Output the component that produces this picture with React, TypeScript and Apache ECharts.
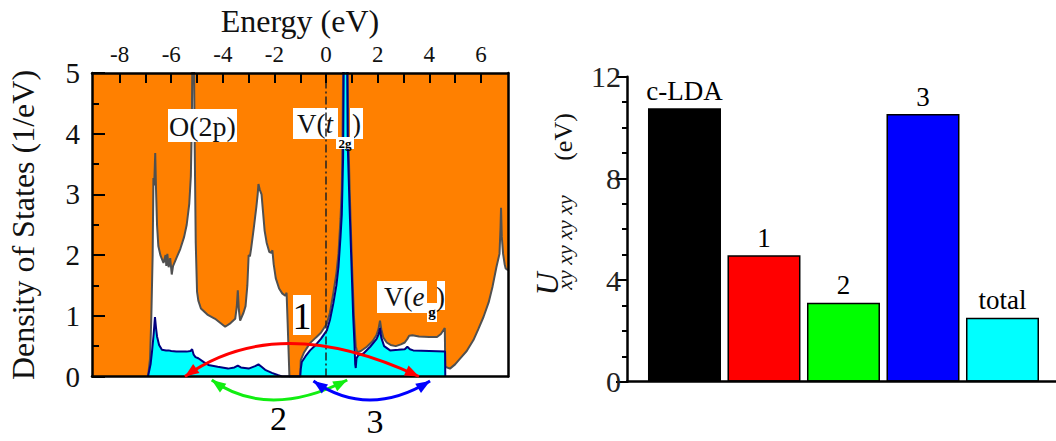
import React, { useEffect, useRef } from 'react';
import * as echarts from 'echarts';

const SERIF = 'Liberation Serif';

// ---------- Left panel: density of states ----------
const energyMin = -9.07;
const energyMax = 7.05;
const energyTickValues = [-8, -7, -6, -5, -4, -3, -2, -1, 0, 1, 2, 3, 4, 5, 6];
const energyLabelValues = [-8, -6, -4, -2, 0, 2, 4, 6];
const dosMin = 0;
const dosMax = 5;

// total DOS [energy eV, DOS 1/eV]
const totalDos: [number, number][] = [
  [-6.9, 0], [-6.82, 0.3], [-6.77, 1.0], [-6.72, 2.0], [-6.69, 3.27], [-6.66, 3.15], [-6.62, 3.68],
  [-6.59, 3.1], [-6.55, 2.5], [-6.5, 2.15], [-6.42, 2.0], [-6.3, 1.87], [-6.22, 2.0], [-6.19, 1.82],
  [-6.15, 2.02], [-6.1, 1.8], [-6.04, 1.95], [-5.98, 1.68], [-5.93, 1.82], [-5.8, 1.95], [-5.65, 2.1],
  [-5.5, 2.3], [-5.4, 2.5], [-5.3, 2.85], [-5.24, 3.3], [-5.2, 4.2], [-5.15, 7.0], [-5.1, 4.2],
  [-5.05, 2.2], [-5.0, 1.4], [-4.95, 1.25], [-4.85, 1.12], [-4.6, 1.02], [-4.3, 0.95], [-3.91, 0.82],
  [-3.7, 0.88], [-3.52, 0.95], [-3.46, 1.15], [-3.42, 1.42], [-3.38, 1.1], [-3.33, 0.92], [-3.2, 1.05],
  [-3.12, 1.16], [-3.05, 1.5], [-3.0, 2.0], [-2.95, 1.98], [-2.9, 2.12], [-2.8, 2.45], [-2.7, 2.8],
  [-2.65, 3.0], [-2.62, 3.17], [-2.57, 3.08], [-2.5, 3.0], [-2.45, 2.75], [-2.38, 2.4], [-2.3, 2.2],
  [-2.2, 2.05], [-2.12, 2.04], [-2.08, 2.08], [-2.03, 1.85], [-1.95, 1.62], [-1.82, 1.45], [-1.7, 1.37],
  [-1.58, 1.33], [-1.53, 1.38], [-1.49, 0.9], [-1.42, 0], [-1.0, 0], [-0.98, 0.27], [-0.85, 0.4],
  [-0.62, 0.55], [-0.4, 0.64], [-0.2, 0.72], [0.03, 0.87], [0.15, 1.05], [0.28, 1.37], [0.4, 1.7],
  [0.48, 2.02], [0.56, 2.6], [0.61, 3.1], [0.64, 4.0], [0.75, 10.0], [0.86, 4.0],
  [0.92, 3.0], [1.0, 1.9], [1.08, 1.0], [1.15, 0.5], [1.21, 0.4], [1.35, 0.42], [1.58, 0.49],
  [1.8, 0.58], [1.95, 0.68], [2.03, 0.78], [2.09, 0.92], [2.14, 0.78], [2.22, 0.64], [2.35, 0.56],
  [2.5, 0.52], [2.7, 0.5], [2.9, 0.53], [3.05, 0.56], [3.15, 0.62], [3.22, 0.67], [3.35, 0.68],
  [3.6, 0.66], [4.0, 0.65], [4.3, 0.65], [4.45, 0.7], [4.6, 0.8], [4.62, 0.16], [4.8, 0.13],
  [5.0, 0.2], [5.2, 0.3], [5.45, 0.42], [5.71, 0.6], [5.9, 0.78], [6.1, 0.98], [6.3, 1.22],
  [6.45, 1.48], [6.6, 1.8], [6.72, 2.02], [6.76, 2.45], [6.78, 2.78], [6.81, 2.3], [6.86, 2.02],
  [6.92, 1.85], [6.96, 1.78], [7.05, 1.75],
];

// V (t2g / eg) partial DOS [energy eV, DOS 1/eV]
const vDos: [number, number][] = [
  [-6.9, 0], [-6.8, 0.2], [-6.74, 0.43], [-6.68, 0.7], [-6.63, 0.98], [-6.59, 0.8], [-6.55, 0.66],
  [-6.47, 0.52], [-6.36, 0.44], [-6.2, 0.43], [-6.1, 0.43], [-6.0, 0.42], [-5.8, 0.41], [-5.6, 0.41],
  [-5.4, 0.41], [-5.25, 0.42], [-5.19, 0.45], [-5.13, 0.36], [-5.06, 0.32], [-4.95, 0.3], [-4.75, 0.24],
  [-4.56, 0.19], [-4.2, 0.16], [-3.8, 0.13], [-3.55, 0.15], [-3.42, 0.18], [-3.3, 0.15], [-3.0, 0.13],
  [-2.75, 0.17], [-2.62, 0.2], [-2.5, 0.16], [-2.36, 0.11], [-2.1, 0.06], [-1.85, 0.02], [-1.7, 0],
  [-1.0, 0], [-0.98, 0.12], [-0.94, 0.24], [-0.8, 0.33], [-0.62, 0.43], [-0.4, 0.52], [-0.2, 0.62],
  [0.03, 0.76], [0.15, 0.93], [0.28, 1.2], [0.4, 1.5], [0.48, 1.8], [0.56, 2.3], [0.61, 2.67],
  [0.66, 3.6], [0.75, 9.0], [0.84, 3.8], [0.91, 2.8], [0.98, 1.9], [1.05, 1.0],
  [1.1, 0.55], [1.13, 0.2], [1.15, 0.14], [1.18, 0.3], [1.25, 0.35], [1.45, 0.38], [1.71, 0.49],
  [1.96, 0.62], [2.04, 0.7], [2.09, 0.8], [2.14, 0.64], [2.25, 0.5], [2.48, 0.43], [2.8, 0.44],
  [3.05, 0.45], [3.15, 0.49], [3.25, 0.45], [3.38, 0.43], [4.0, 0.42], [4.61, 0.41], [4.62, 0],
];

// transitions (energies in eV) drawn as arrows under the DOS
const transitionIds = ['1', '2', '3'];
const transitionFrom = [-5.47, -4.43, -0.49];
const transitionTo = [3.6, 0.82, 4.03];
const transitionApex = [-1.4, -2.03, 1.7];

// ---------- Right panel: Coulomb integrals ----------
const barCategories = ['c-LDA', '1', '2', '3', 'total'];
const barValues = [10.76, 4.98, 3.11, 10.53, 2.52];
const uMin = 0;
const uMax = 12;
const uInterval = 4;

const barColors = ['#000000', '#ff0000', '#00ff00', '#0000ff', '#00ffff'];
const arcColors = ['#ff0000', '#11ee11', '#0000ff'];
const arcOffsetY = [0, 3.5, 4.5];
const arcDepth = [-33, 20, 19];

function arrowHead(tipX: number, tipY: number, fromX: number, fromY: number, color: string) {
  const dx = tipX - fromX;
  const dy = tipY - fromY;
  const L = Math.hypot(dx, dy) || 1;
  const ux = dx / L;
  const uy = dy / L;
  const len = 14;
  const hw = 5.5;
  const bx = tipX - ux * len;
  const by = tipY - uy * len;
  return {
    type: 'polygon',
    z: 60,
    shape: { points: [[tipX, tipY], [bx - uy * hw, by + ux * hw], [bx + uy * hw, by - ux * hw]] },
    style: { fill: color },
  };
}

export default function App() {
  const ref = useRef<HTMLDivElement>(null);

  useEffect(() => {
    if (!ref.current) return;
    const chart = echarts.init(ref.current, null, { renderer: 'svg' });
    const axisLineStyle = { color: '#000', width: 2.5 };
    const tickStyle = { color: '#000', width: 2 };
    const barMinX = -0.723;
    const barMaxX = 4.673;

    const option: any = {
      animation: false,
      backgroundColor: '#ffffff',
      textStyle: { fontFamily: SERIF },
      grid: [
        { left: 92, top: 71, width: 416, height: 305.5, show: true, backgroundColor: '#ff8000', borderWidth: 0 },
        { left: 627, top: 76.7, width: 429, height: 305, show: false },
      ],
      xAxis: [
        {
          gridIndex: 0, type: 'value', position: 'top', min: energyMin, max: energyMax, z: 10,
          name: 'Energy (eV)', nameLocation: 'middle', nameGap: 36,
          nameTextStyle: { fontFamily: SERIF, fontSize: 32, color: '#111' },
          axisLine: { show: true, onZero: false, lineStyle: axisLineStyle },
          axisTick: { show: true, inside: true, length: 10, customValues: energyTickValues, lineStyle: tickStyle },
          axisLabel: { show: true, customValues: energyLabelValues, fontFamily: SERIF, fontSize: 23, color: '#111', margin: 7 },
          splitLine: { show: false },
        },
        {
          gridIndex: 0, type: 'value', position: 'bottom', min: energyMin, max: energyMax, z: 10,
          axisLine: { show: true, onZero: false, lineStyle: axisLineStyle },
          axisTick: { show: false }, axisLabel: { show: false }, splitLine: { show: false },
        },
        {
          gridIndex: 1, type: 'value', min: barMinX, max: barMaxX, z: 10,
          axisLine: { show: true, onZero: false, lineStyle: axisLineStyle },
          axisTick: { show: false }, axisLabel: { show: false }, splitLine: { show: false },
        },
      ],
      yAxis: [
        {
          gridIndex: 0, type: 'value', min: dosMin, max: dosMax, interval: 1, z: 10,
          axisLine: { show: true, onZero: false, lineStyle: axisLineStyle },
          axisTick: { show: true, inside: true, length: 13, lineStyle: tickStyle },
          minorTick: { show: true, splitNumber: 2, length: 7, lineStyle: tickStyle },
          axisLabel: { fontFamily: SERIF, fontSize: 29, color: '#111', margin: 12 },
          splitLine: { show: false }, minorSplitLine: { show: false },
        },
        {
          gridIndex: 0, type: 'value', position: 'right', min: dosMin, max: dosMax, z: 10,
          axisLine: { show: true, onZero: false, lineStyle: axisLineStyle },
          axisTick: { show: false }, axisLabel: { show: false }, splitLine: { show: false },
        },
        {
          gridIndex: 1, type: 'value', min: uMin, max: uMax, interval: uInterval, z: 10,
          axisLine: { show: true, onZero: false, lineStyle: axisLineStyle },
          axisTick: { show: true, inside: false, length: 11, lineStyle: tickStyle },
          minorTick: { show: true, splitNumber: 4, length: 5, lineStyle: tickStyle },
          axisLabel: { fontFamily: SERIF, fontSize: 30, color: '#222', margin: 6 },
          splitLine: { show: false }, minorSplitLine: { show: false },
        },
      ],
      series: [
        {
          type: 'line', xAxisIndex: 0, yAxisIndex: 0, data: totalDos, symbol: 'none', showSymbol: false,
          lineStyle: { color: '#505050', width: 2 }, areaStyle: { color: '#ffffff', opacity: 1 }, z: 2,
        },
        {
          type: 'line', xAxisIndex: 0, yAxisIndex: 0, data: vDos, symbol: 'none', showSymbol: false,
          lineStyle: { color: '#000080', width: 2 }, areaStyle: { color: '#00ffff', opacity: 1 }, z: 3,
          markLine: {
            silent: true, symbol: ['none', 'none'], label: { show: false },
            lineStyle: { color: '#222', width: 1.5, type: [8, 3, 2, 3] },
            data: [{ xAxis: 0 }],
          },
        },
        {
          type: 'bar', xAxisIndex: 2, yAxisIndex: 2, barWidth: 73,
          data: barValues.map((v, i) => ({ value: [i, v], itemStyle: { color: barColors[i] } })),
          itemStyle: { borderColor: '#000', borderWidth: 1.5 },
          label: {
            show: true, position: 'top', distance: 4,
            formatter: (p: any) => barCategories[p.dataIndex],
            fontFamily: SERIF, fontSize: 27, color: '#000',
          },
        },
      ],
    };
    chart.setOption(option);

    const graphics: any[] = [];
    // transition arrows
    transitionIds.forEach((id, i) => {
      const p0 = chart.convertToPixel({ xAxisIndex: 0, yAxisIndex: 0 }, [transitionFrom[i], 0]) as number[];
      const p1 = chart.convertToPixel({ xAxisIndex: 0, yAxisIndex: 0 }, [transitionTo[i], 0]) as number[];
      const pa = chart.convertToPixel({ xAxisIndex: 0, yAxisIndex: 0 }, [transitionApex[i], 0]) as number[];
      const y0 = p0[1] + arcOffsetY[i];
      const x0 = p0[0];
      const x1 = p1[0];
      const apexY = y0 + arcDepth[i];
      const cx = 2 * pa[0] - (x0 + x1) / 2;
      const cy = 2 * apexY - y0;
      const color = arcColors[i];
      graphics.push({
        type: 'bezierCurve', z: 59,
        shape: { x1: x0, y1: y0, x2: x1, y2: y0, cpx1: cx, cpy1: cy },
        style: { stroke: color, lineWidth: 3, fill: null },
      });
      graphics.push(arrowHead(x0, y0, cx, cy, color));
      graphics.push(arrowHead(x1, y0, cx, cy, color));
    });

    const txt = (x: number, y: number, text: string, fontSize: number, extra: any = {}, z = 51) => ({
      type: 'text', x, y, z,
      style: { text, fontFamily: SERIF, fontSize, fill: '#111', align: 'center', verticalAlign: 'middle', ...extra },
    });
    const box = (x: number, y: number, w: number, h: number, z = 50) => ({
      type: 'rect', z, shape: { x, y, width: w, height: h }, style: { fill: '#ffffff' },
    });

    // O(2p)
    graphics.push(box(168, 109, 69, 33));
    graphics.push(txt(202.5, 126, 'O(2p)', 28));
    // V(t2g)  (box under the curves, so the spike and the dash-dot line show)
    graphics.push(box(293, 108, 45, 31, 1));
    graphics.push(box(350, 108, 13, 31, 1));
    graphics.push({
      type: 'text', x: 297, y: 124, z: 1,
      style: {
        text: '{a|V(}{b|t}', align: 'left', verticalAlign: 'middle', fill: '#111',
        rich: {
          a: { fontFamily: SERIF, fontSize: 27, fill: '#111' },
          b: { fontFamily: SERIF, fontSize: 27, fontStyle: 'italic', fill: '#111' },
        },
      },
    });
    graphics.push(txt(352, 124, ')', 27, { align: 'left' }, 1));
    graphics.push(box(336, 137, 18, 12));
    graphics.push(txt(345, 143, '2g', 13, { fontWeight: 'bold', fill: '#000' }));
    // V(eg)
    graphics.push(box(377, 281, 50, 32));
    graphics.push(box(437, 281, 8, 29));
    graphics.push(box(427, 303, 10, 19));
    graphics.push({
      type: 'text', x: 384, y: 297, z: 51,
      style: {
        text: '{a|V(}{b|e}', align: 'left', verticalAlign: 'middle', fill: '#111',
        rich: {
          a: { fontFamily: SERIF, fontSize: 27, fill: '#111' },
          b: { fontFamily: SERIF, fontSize: 27, fontStyle: 'italic', fill: '#111' },
        },
      },
    });
    graphics.push(txt(436, 297, ')', 27, { align: 'left' }));
    graphics.push(txt(432, 312, 'g', 15, { fontWeight: 'bold', fill: '#000' }));
    // transition labels
    graphics.push(box(293, 295, 18, 40));
    graphics.push(txt(302, 316, '1', 38, { fill: '#000' }));
    graphics.push(txt(278.5, 418.5, '2', 34, { fill: '#000' }));
    graphics.push(txt(375, 421.5, '3', 34, { fill: '#000' }));
    // left y-axis title
    graphics.push({ ...txt(23, 225, 'Density of States (1/eV)', 32, { fill: '#111' }), rotation: Math.PI / 2 });
    // right y-axis title
    graphics.push({ ...txt(547, 284, 'U', 32, { fontStyle: 'italic', fill: '#111' }), rotation: Math.PI / 2 });
    graphics.push({ ...txt(564, 242.5, 'xy xy xy xy', 22, { fontStyle: 'italic', fill: '#111' }), rotation: Math.PI / 2 });
    graphics.push({ ...txt(563, 137, '(eV)', 26, { fill: '#111' }), rotation: Math.PI / 2 });

    chart.setOption({ graphic: graphics });

    return () => chart.dispose();
  }, []);

  return (
    <div
      ref={ref}
      style={{ position: 'absolute', left: 0, top: 0, width: 1056, height: 441, background: '#fff' }}
    />
  );
}
